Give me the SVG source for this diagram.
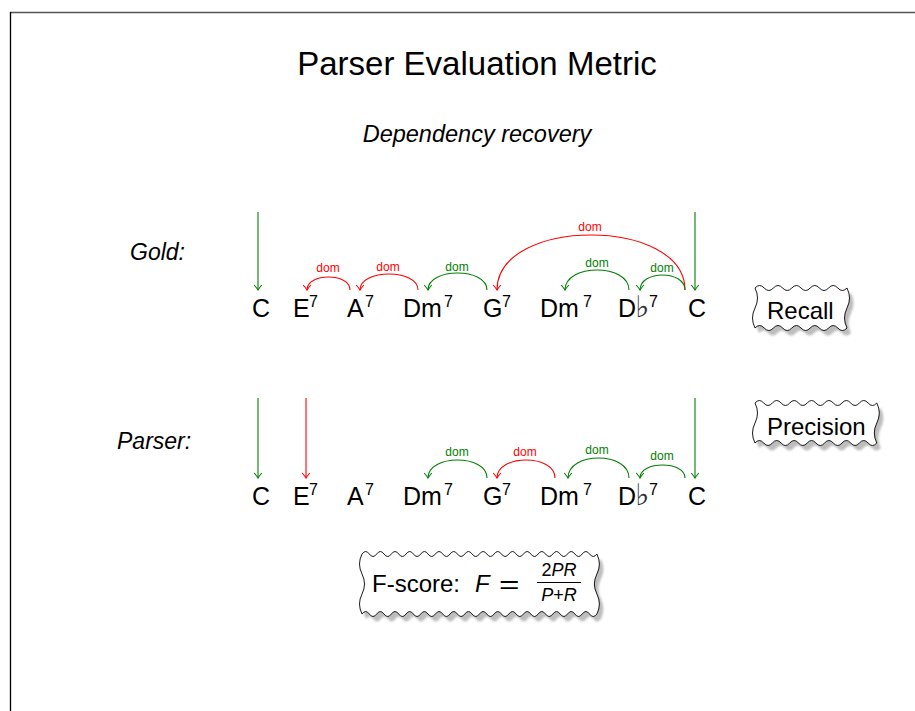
<svg xmlns="http://www.w3.org/2000/svg" xmlns:xlink="http://www.w3.org/1999/xlink" width="915" height="711" viewBox="0 0 915 711">
<style>
text{font-family:"Liberation Sans","DejaVu Sans",sans-serif;fill:#000}
.title{font-size:33px;text-anchor:middle}
.sub{font-size:23.5px;font-style:italic;text-anchor:middle}
.lab{font-size:23px;font-style:italic}
.ch{font-size:25px}
.sup{font-size:16px}
.flat{font-family:"DejaVu Sans",sans-serif;font-size:30px;fill:#333}
.dom{font-size:12px;text-anchor:middle}
.g{stroke:#008000;fill:none;stroke-width:1.1}
.r{stroke:#ff0000;fill:none;stroke-width:1.1}
.gt{fill:#008000}
.rt{fill:#ff0000}
.box{fill:#fff;stroke:#000;stroke-width:0.9}
.shadow{fill:#bdbdbd;stroke:none;filter:url(#blur)}
.btxt{font-size:24px}
.it{font-style:italic}
</style>
<defs>
<filter id="blur" x="-10%" y="-10%" width="120%" height="130%"><feGaussianBlur stdDeviation="1"/></filter>
<marker id="ag" markerWidth="10" markerHeight="10" refX="0" refY="0" viewBox="-6 -5 8 10" orient="auto" markerUnits="userSpaceOnUse"><path d="M-5,-3.8 Q-1.5,-0.8 0,0 Q-1.5,0.8 -5,3.8" fill="none" stroke="#008000" stroke-width="1.1"/></marker>
<marker id="ar" markerWidth="10" markerHeight="10" refX="0" refY="0" viewBox="-6 -5 8 10" orient="auto" markerUnits="userSpaceOnUse"><path d="M-5,-3.8 Q-1.5,-0.8 0,0 Q-1.5,0.8 -5,3.8" fill="none" stroke="#ff0000" stroke-width="1.1"/></marker>
<path id="recallShape" d="M755,288 q4.6,-5 9.2,0 t9.2,0 9.2,0 9.2,0 9.2,0 9.2,0 9.2,0 9.2,0 9.2,0 9.2,0 q5,10 0,20 t0,20 q-4.6,5 -9.2,0 t-9.2,0 -9.2,0 -9.2,0 -9.2,0 -9.2,0 -9.2,0 -9.2,0 -9.2,0 -9.2,0 q-5,-10 0,-20 t0,-20 Z"/>
<path id="precShape" d="M755,403 q4.35,-5 8.7,0 t8.7,0 8.7,0 8.7,0 8.7,0 8.7,0 8.7,0 8.7,0 8.7,0 8.7,0 8.7,0 8.7,0 8.7,0 8.7,0 q5,10 0,20 t0,20 q-4.35,5 -8.7,0 t-8.7,0 -8.7,0 -8.7,0 -8.7,0 -8.7,0 -8.7,0 -8.7,0 -8.7,0 -8.7,0 -8.7,0 -8.7,0 -8.7,0 -8.7,0 q-5,-10 0,-20 t0,-20 Z"/>
<path id="fShape" d="M362,554 q3.67,-5 7.34,0 t7.34,0 7.34,0 7.34,0 7.34,0 7.34,0 7.34,0 7.34,0 7.34,0 7.34,0 7.34,0 7.34,0 7.34,0 7.34,0 7.34,0 7.34,0 7.34,0 7.34,0 7.34,0 7.34,0 7.34,0 7.34,0 7.34,0 7.34,0 7.34,0 7.34,0 7.34,0 7.34,0 7.34,0 7.34,0 7.34,0 7.34,0 q5,10 0,20 t0,20 0,20 q-3.67,5 -7.34,0 t-7.34,0 -7.34,0 -7.34,0 -7.34,0 -7.34,0 -7.34,0 -7.34,0 -7.34,0 -7.34,0 -7.34,0 -7.34,0 -7.34,0 -7.34,0 -7.34,0 -7.34,0 -7.34,0 -7.34,0 -7.34,0 -7.34,0 -7.34,0 -7.34,0 -7.34,0 -7.34,0 -7.34,0 -7.34,0 -7.34,0 -7.34,0 -7.34,0 -7.34,0 -7.34,0 -7.34,0 q-5,-10 0,-20 t0,-20 0,-20 Z"/>
</defs>
<rect width="915" height="711" fill="#fff"/>
<g id="frame">
<line x1="10" y1="12.5" x2="915" y2="12.5" stroke="#555" stroke-width="1.5"/>
<line x1="10.5" y1="12" x2="10.5" y2="711" stroke="#000" stroke-width="1.3"/>
</g>
<g id="title"><text class="title" x="477" y="75">Parser Evaluation Metric</text></g>
<g id="subtitle"><text class="sub" x="477" y="142">Dependency recovery</text></g>
<g id="gold-label"><text class="lab" x="130" y="260">Gold:</text></g>
<g id="parser-label"><text class="lab" x="117" y="449">Parser:</text></g>
<g id="gold-chords">
<text class="ch" x="252" y="317">C</text>
<text class="ch" x="293" y="317">E<tspan class="sup" x="309" dy="-10">7</tspan></text>
<text class="ch" x="347" y="317">A<tspan class="sup" x="365" dy="-10">7</tspan></text>
<text class="ch" x="403" y="317">Dm<tspan class="sup" x="444" dy="-10">7</tspan></text>
<text class="ch" x="483" y="317">G<tspan class="sup" x="502" dy="-10">7</tspan></text>
<text class="ch" x="540" y="317">Dm<tspan class="sup" x="583" dy="-10">7</tspan></text>
<text class="ch" x="618" y="317">D<tspan class="flat" x="635">♭</tspan><tspan class="sup" x="649" dy="-10">7</tspan></text>
<text class="ch" x="688" y="317">C</text>
</g>
<g id="parser-chords">
<text class="ch" x="252" y="505">C</text>
<text class="ch" x="293" y="505">E<tspan class="sup" x="309" dy="-10">7</tspan></text>
<text class="ch" x="347" y="505">A<tspan class="sup" x="365" dy="-10">7</tspan></text>
<text class="ch" x="403" y="505">Dm<tspan class="sup" x="444" dy="-10">7</tspan></text>
<text class="ch" x="483" y="505">G<tspan class="sup" x="502" dy="-10">7</tspan></text>
<text class="ch" x="540" y="505">Dm<tspan class="sup" x="583" dy="-10">7</tspan></text>
<text class="ch" x="618" y="505">D<tspan class="flat" x="635">♭</tspan><tspan class="sup" x="649" dy="-10">7</tspan></text>
<text class="ch" x="688" y="505">C</text>
</g>
<g id="connectors">
<line class="g" x1="258" y1="212" x2="258" y2="290" marker-end="url(#ag)"/>
<line class="g" x1="695" y1="212" x2="695" y2="290" marker-end="url(#ag)"/>
<path class="r" d="M350,290 C350,272.7 307,272.7 307,290" marker-end="url(#ar)"/>
<path class="r" d="M418,290 C418,268.7 360,268.7 360,290" marker-end="url(#ar)"/>
<path class="g" d="M487,290 C487,267.3 428,267.3 428,290" marker-end="url(#ag)"/>
<path class="r" d="M685,290 C685,216.7 497,216.7 497,290" marker-end="url(#ar)"/>
<path class="g" d="M629,290 C629,263.3 565,263.3 565,290" marker-end="url(#ag)"/>
<path class="g" d="M685,290 C685,270 640,270 640,290" marker-end="url(#ag)"/>
<text class="dom rt" x="328" y="272">dom</text>
<text class="dom rt" x="388" y="271">dom</text>
<text class="dom gt" x="457" y="271">dom</text>
<text class="dom rt" x="590" y="231">dom</text>
<text class="dom gt" x="597" y="267">dom</text>
<text class="dom gt" x="662" y="272">dom</text>
<line class="g" x1="258" y1="398" x2="258" y2="478" marker-end="url(#ag)"/>
<line class="r" x1="306" y1="398" x2="306" y2="478" marker-end="url(#ar)"/>
<line class="g" x1="695" y1="398" x2="695" y2="478" marker-end="url(#ag)"/>
<path class="g" d="M487,478 C487,454 428,454 428,478" marker-end="url(#ag)"/>
<path class="r" d="M555,478 C555,454 497,454 497,478" marker-end="url(#ar)"/>
<path class="g" d="M629,478 C629,451.3 568,451.3 568,478" marker-end="url(#ag)"/>
<path class="g" d="M685,478 C685,460.7 640,460.7 640,478" marker-end="url(#ag)"/>
<text class="dom gt" x="457" y="456">dom</text>
<text class="dom rt" x="525" y="456">dom</text>
<text class="dom gt" x="597" y="454">dom</text>
<text class="dom gt" x="662" y="460">dom</text>
</g>
<g id="recall">
<use xlink:href="#recallShape" class="shadow" transform="translate(4,5)"/>
<use xlink:href="#recallShape" class="box"/>
<text class="btxt" x="767" y="319">Recall</text>
</g>
<g id="precision">
<use xlink:href="#precShape" class="shadow" transform="translate(4,5)"/>
<use xlink:href="#precShape" class="box"/>
<text class="btxt" x="767" y="435">Precision</text>
</g>
<g id="fscore">
<use xlink:href="#fShape" class="shadow" transform="translate(4,5)"/>
<use xlink:href="#fShape" class="box"/>
<text class="btxt" x="372" y="592">F-score:</text>
<text class="btxt it" x="475" y="592">F</text>
<text style="font-size:26px" transform="translate(499,593) scale(1.35,1)" x="0" y="0">=</text>
<text style="font-size:18px;text-anchor:middle" x="559" y="576">2<tspan class="it">PR</tspan></text>
<line x1="537" y1="582.5" x2="581" y2="582.5" stroke="#000" stroke-width="1"/>
<text style="font-size:18px;text-anchor:middle;font-style:italic" x="559" y="601">P<tspan style="font-style:normal">+</tspan>R</text>
</g>
</svg>
